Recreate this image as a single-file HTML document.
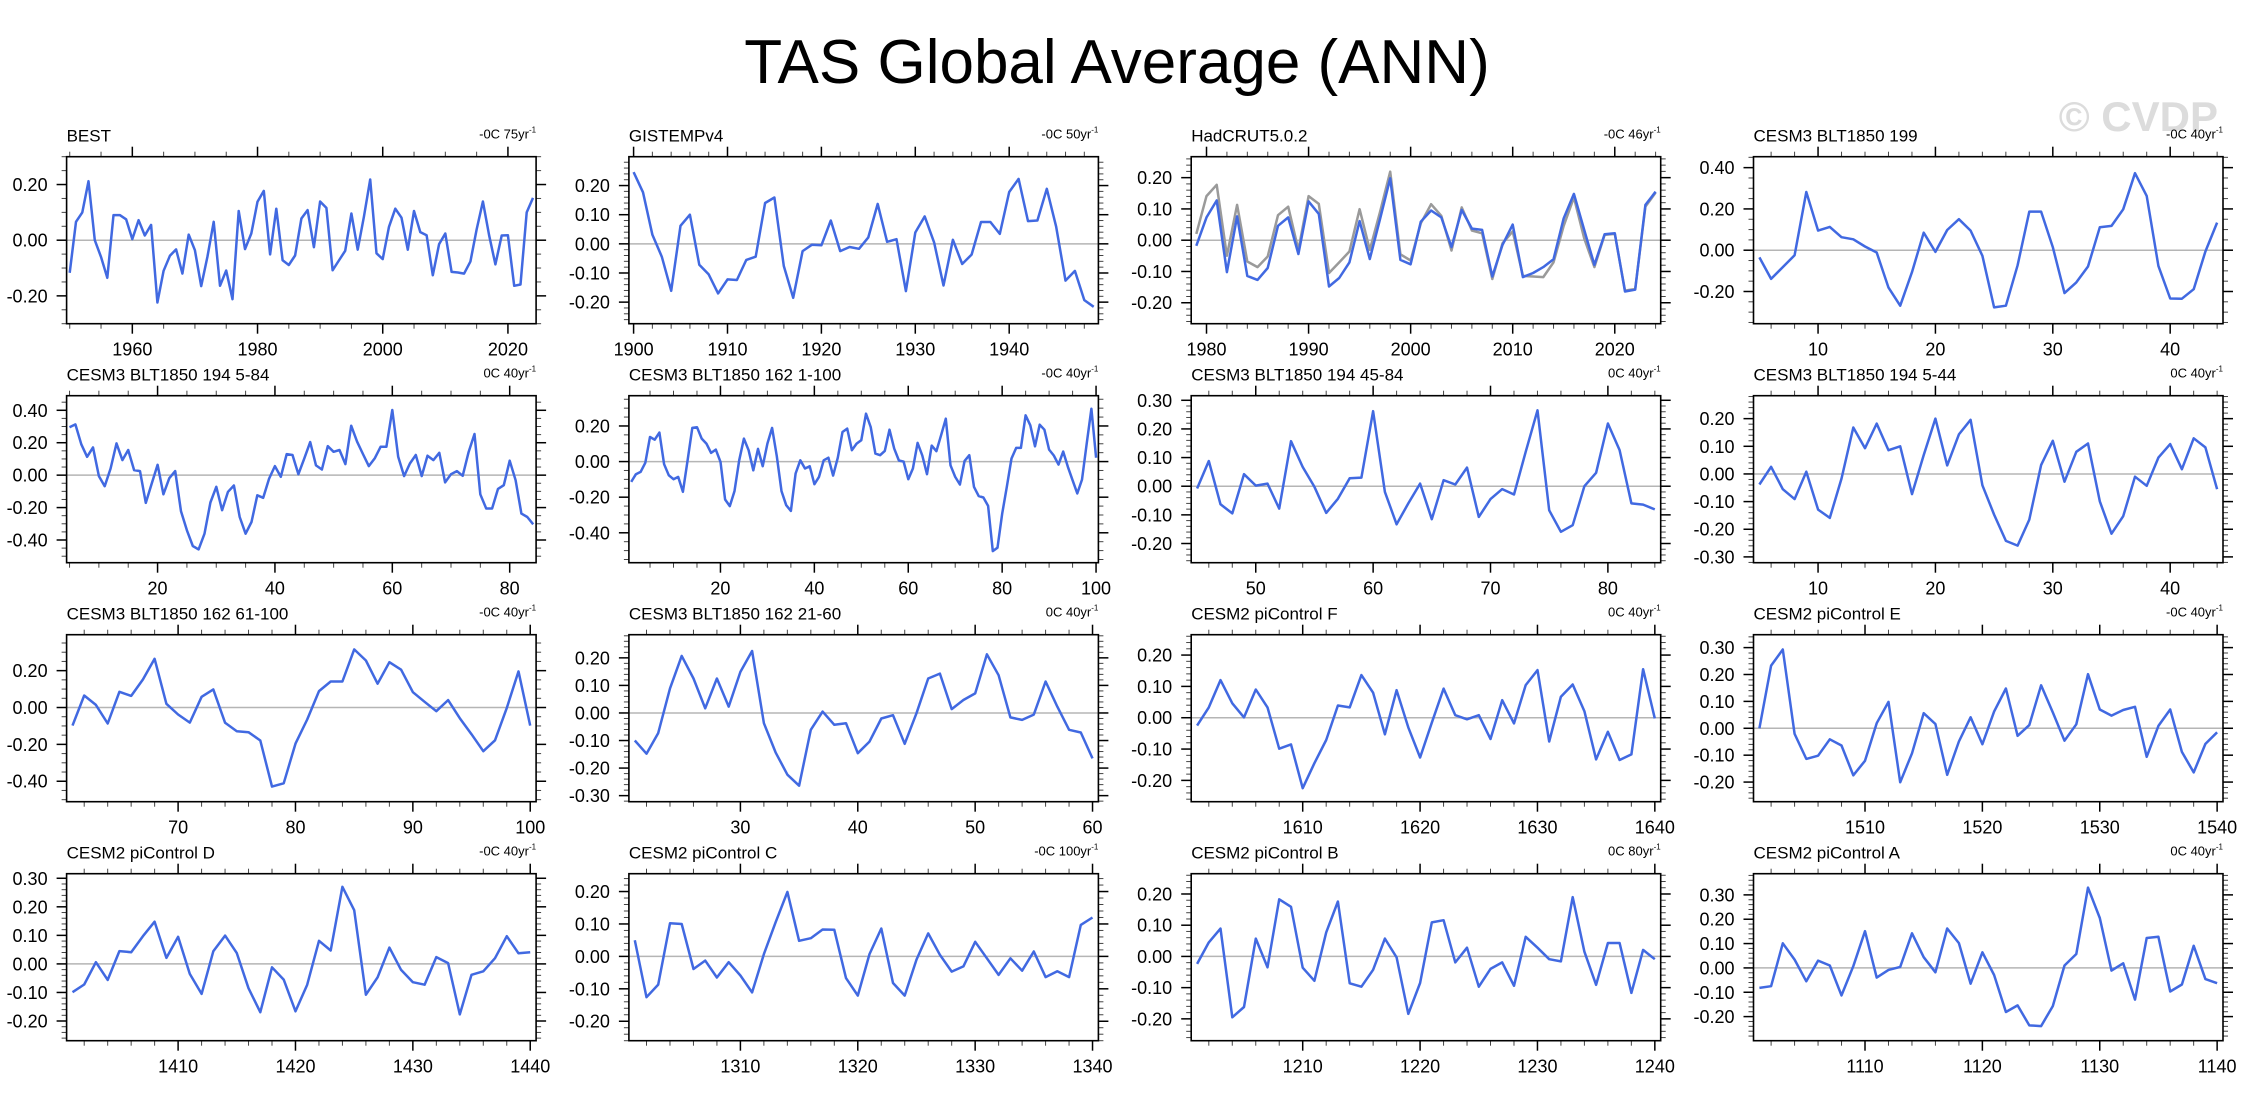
<!DOCTYPE html>
<html><head><meta charset="utf-8"><title>TAS Global Average (ANN)</title>
<style>
html,body{margin:0;padding:0;background:#fff;}
svg{display:block;font-family:"Liberation Sans",sans-serif;}
</style></head>
<body>
<svg id="chart" width="2250" height="1103" viewBox="0 0 2250 1103" xmlns="http://www.w3.org/2000/svg">
<text x="1117" y="83" font-size="62" text-anchor="middle" fill="#000">TAS Global Average (ANN)</text>
<text x="2218" y="131" font-size="42" font-weight="bold" text-anchor="end" fill="#dcdcdc">© CVDP</text>
</svg>
<script>
const titles = ["BEST","GISTEMPv4","HadCRUT5.0.2","CESM3 BLT1850 199",
"CESM3 BLT1850 194 5-84","CESM3 BLT1850 162 1-100","CESM3 BLT1850 194 45-84","CESM3 BLT1850 194 5-44",
"CESM3 BLT1850 162 61-100","CESM3 BLT1850 162 21-60","CESM2 piControl F","CESM2 piControl E",
"CESM2 piControl D","CESM2 piControl C","CESM2 piControl B","CESM2 piControl A"];
const trendValues = ["-0C","-0C","-0C","-0C","0C","-0C","0C","0C","-0C","0C","0C","-0C","-0C","-0C","0C","0C"];
const trendYears = ["75yr","50yr","46yr","40yr","40yr","40yr","40yr","40yr","40yr","40yr","40yr","40yr","40yr","100yr","80yr","40yr"];
const startX = [1950,1900,1979,5,5,1,45,5,61,21,1601,1501,1401,1301,1201,1101];
const yMin = [-0.3,-0.274,-0.267,-0.356,-0.54,-0.568,-0.267,-0.321,-0.511,-0.322,-0.268,-0.273,-0.269,-0.26,-0.27,-0.299];
const yMax = [0.3,0.299,0.267,0.453,0.49,0.37,0.316,0.283,0.395,0.284,0.265,0.348,0.316,0.255,0.265,0.387];
const yLabelStep = [0.2,0.1,0.1,0.2,0.2,0.2,0.1,0.1,0.2,0.1,0.1,0.1,0.1,0.1,0.1,0.1];
const xLabelStep = [20,10,10,10,20,20,10,10,10,10,10,10,10,10,10,10];

const best = [-0.117,0.066,0.10,0.212,0.0,-0.06,-0.135,0.09,0.09,0.075,0.004,0.072,0.017,0.055,-0.224,-0.11,-0.056,-0.033,-0.12,0.02,-0.036,-0.165,-0.06,0.066,-0.164,-0.109,-0.212,0.105,-0.032,0.024,0.138,0.177,-0.051,0.113,-0.072,-0.089,-0.055,0.078,0.108,-0.025,0.139,0.116,-0.108,-0.073,-0.038,0.096,-0.034,0.084,0.218,-0.047,-0.068,0.048,0.113,0.081,-0.034,0.105,0.029,0.018,-0.126,-0.014,0.024,-0.114,-0.116,-0.12,-0.077,0.038,0.139,0.018,-0.087,0.017,0.018,-0.164,-0.159,0.1,0.152];
const gistemp = [0.246,0.177,0.031,-0.044,-0.161,0.062,0.1,-0.072,-0.105,-0.17,-0.122,-0.124,-0.055,-0.044,0.14,0.159,-0.076,-0.185,-0.025,-0.003,-0.005,0.08,-0.025,-0.011,-0.017,0.022,0.137,0.007,0.016,-0.162,0.039,0.094,0.005,-0.143,0.014,-0.069,-0.037,0.075,0.075,0.034,0.178,0.223,0.078,0.08,0.189,0.06,-0.126,-0.093,-0.193,-0.216];
const hadcrut = [-0.018,0.073,0.127,-0.102,0.076,-0.114,-0.127,-0.089,0.046,0.073,-0.044,0.124,0.084,-0.148,-0.121,-0.071,0.061,-0.06,0.067,0.198,-0.063,-0.077,0.059,0.095,0.073,-0.022,0.097,0.037,0.033,-0.116,-0.015,0.05,-0.118,-0.105,-0.086,-0.061,0.07,0.148,0.033,-0.079,0.019,0.022,-0.164,-0.158,0.113,0.155];
const hadcrutGray = [0.02,0.141,0.177,-0.05,0.113,-0.068,-0.086,-0.052,0.08,0.107,-0.031,0.141,0.116,-0.105,-0.071,-0.036,0.099,-0.031,0.09,0.219,-0.045,-0.065,0.054,0.115,0.078,-0.033,0.105,0.031,0.022,-0.124,-0.01,0.028,-0.114,-0.116,-0.118,-0.071,0.046,0.137,0.006,-0.086,0.017,0.02,-0.161,-0.156,0.107,0.152];
const blt199 = [-0.035,-0.139,-0.082,-0.024,0.282,0.095,0.113,0.063,0.053,0.018,-0.011,-0.181,-0.269,-0.106,0.085,-0.008,0.098,0.15,0.095,-0.027,-0.277,-0.269,-0.073,0.187,0.187,0.015,-0.208,-0.156,-0.079,0.111,0.118,0.198,0.373,0.263,-0.076,-0.234,-0.235,-0.189,-0.006,0.134];
const blt194a = [0.295,0.313,0.19,0.113,0.171,-0.006,-0.068,0.041,0.196,0.093,0.155,0.031,0.025,-0.171,-0.052,0.064,-0.118,-0.019,0.025,-0.223,-0.34,-0.437,-0.458,-0.361,-0.169,-0.072,-0.216,-0.103,-0.064,-0.258,-0.361,-0.289,-0.124,-0.14,-0.021,0.056,-0.01,0.13,0.124,0.006,0.103,0.204,0.06,0.035,0.179,0.144,0.155,0.068,0.305,0.206,0.13,0.056,0.103,0.175,0.175,0.402,0.113,-0.006,0.072,0.124,-0.006,0.12,0.093,0.138,-0.045,0.006,0.025,-0.004,0.142,0.254,-0.118,-0.206,-0.206,-0.085,-0.062,0.089,-0.031,-0.237,-0.258,-0.303];
const blt162a = [-0.114,-0.071,-0.058,-0.007,0.138,0.123,0.163,-0.015,-0.077,-0.099,-0.086,-0.17,0.007,0.189,0.193,0.129,0.101,0.049,0.067,-0.002,-0.213,-0.25,-0.166,0.007,0.129,0.064,-0.049,0.071,-0.026,0.101,0.189,0.03,-0.166,-0.245,-0.277,-0.067,0.007,-0.039,-0.026,-0.127,-0.086,0.007,0.022,-0.079,0.022,0.166,0.185,0.064,0.101,0.12,0.269,0.194,0.045,0.036,0.06,0.179,0.073,0.006,0,-0.099,-0.039,0.105,0.034,-0.071,0.09,0.058,0.148,0.241,-0.021,-0.086,-0.129,0.004,0.036,-0.142,-0.194,-0.202,-0.249,-0.503,-0.484,-0.292,-0.142,0.017,0.077,0.077,0.26,0.204,0.086,0.207,0.179,0.067,0.034,-0.017,0.056,-0.03,-0.105,-0.179,-0.101,0.101,0.297,0.022];
const blt194b = [-0.008,0.088,-0.063,-0.095,0.042,0.002,0.009,-0.078,0.157,0.067,-0.002,-0.093,-0.044,0.028,0.03,0.262,-0.02,-0.133,-0.06,0.009,-0.115,0.021,0.006,0.065,-0.107,-0.045,-0.01,-0.029,0.12,0.265,-0.084,-0.159,-0.136,0,0.047,0.219,0.126,-0.06,-0.064,-0.081];
const blt194c = [-0.038,0.026,-0.055,-0.091,0.008,-0.129,-0.159,-0.017,0.168,0.093,0.182,0.086,0.1,-0.073,0.068,0.2,0.031,0.143,0.196,-0.041,-0.147,-0.242,-0.259,-0.165,0.032,0.12,-0.028,0.08,0.11,-0.099,-0.216,-0.153,-0.01,-0.043,0.059,0.108,0.017,0.129,0.096,-0.055];
const blt162b = [-0.098,0.065,0.014,-0.087,0.085,0.063,0.152,0.264,0.02,-0.038,-0.082,0.058,0.098,-0.083,-0.129,-0.134,-0.179,-0.429,-0.411,-0.196,-0.065,0.089,0.141,0.141,0.315,0.255,0.129,0.246,0.205,0.083,0.031,-0.02,0.04,-0.058,-0.145,-0.237,-0.178,-0.002,0.196,-0.098];
const blt162c = [-0.1,-0.148,-0.073,0.089,0.207,0.125,0.017,0.125,0.023,0.149,0.225,-0.037,-0.143,-0.224,-0.264,-0.061,0.005,-0.043,-0.037,-0.146,-0.104,-0.02,-0.008,-0.112,-0.001,0.125,0.143,0.014,0.047,0.071,0.213,0.137,-0.016,-0.025,-0.006,0.114,0.023,-0.061,-0.071,-0.165];
const piF = [-0.025,0.033,0.12,0.046,0.001,0.09,0.033,-0.099,-0.085,-0.225,-0.145,-0.071,0.039,0.033,0.136,0.08,-0.053,0.088,-0.031,-0.127,-0.016,0.093,0.008,-0.005,0.008,-0.068,0.056,-0.018,0.104,0.152,-0.076,0.067,0.106,0.021,-0.133,-0.045,-0.135,-0.117,0.155,-0.002];
const piE = [0,0.233,0.293,-0.021,-0.114,-0.102,-0.041,-0.064,-0.175,-0.121,0.019,0.098,-0.201,-0.093,0.056,0.016,-0.173,-0.049,0.041,-0.059,0.062,0.148,-0.028,0.012,0.16,0.059,-0.046,0.015,0.201,0.07,0.047,0.068,0.08,-0.106,0.009,0.07,-0.088,-0.164,-0.058,-0.015];
const piD = [-0.099,-0.072,0.006,-0.056,0.045,0.041,0.097,0.148,0.021,0.095,-0.035,-0.105,0.044,0.099,0.038,-0.085,-0.169,-0.012,-0.055,-0.166,-0.073,0.081,0.047,0.27,0.188,-0.108,-0.047,0.057,-0.021,-0.064,-0.073,0.024,0.003,-0.177,-0.038,-0.026,0.02,0.097,0.037,0.041];
const piC = [0.05,-0.126,-0.087,0.102,0.1,-0.039,-0.013,-0.065,-0.018,-0.059,-0.111,0.007,0.105,0.199,0.048,0.056,0.083,0.082,-0.067,-0.121,0.007,0.086,-0.082,-0.121,-0.01,0.071,0.005,-0.047,-0.031,0.045,-0.006,-0.057,-0.006,-0.044,0.015,-0.064,-0.046,-0.064,0.097,0.12];
const piB = [-0.024,0.045,0.089,-0.195,-0.162,0.057,-0.035,0.183,0.159,-0.036,-0.078,0.077,0.176,-0.086,-0.097,-0.043,0.057,-0.003,-0.184,-0.085,0.109,0.116,-0.019,0.028,-0.097,-0.04,-0.019,-0.094,0.063,0.028,-0.009,-0.016,0.19,0.015,-0.091,0.043,0.043,-0.117,0.021,-0.009];
const piA = [-0.082,-0.075,0.101,0.034,-0.055,0.03,0.01,-0.113,0.007,0.151,-0.04,-0.008,0.004,0.142,0.044,-0.018,0.162,0.102,-0.065,0.064,-0.029,-0.181,-0.154,-0.236,-0.239,-0.157,0.01,0.057,0.33,0.205,-0.011,0.019,-0.13,0.123,0.128,-0.097,-0.068,0.091,-0.046,-0.063];

const seriesList = [best,gistemp,hadcrut,blt199,blt194a,blt162a,blt194b,blt194c,blt162b,blt162c,piF,piE,piD,piC,piB,piA];

const NS = "http://www.w3.org/2000/svg";
const svg = document.getElementById("chart");
const PW = 469.5, PH = 167;
function mk(tag, attrs, parent) {
  const e = document.createElementNS(NS, tag);
  for (const k in attrs) e.setAttribute(k, attrs[k]);
  (parent || svg).appendChild(e);
  return e;
}
function slug(s){return s.toLowerCase().replace(/[^a-z0-9]+/g,'-').replace(/^-|-$/g,'');}

for (let p = 0; p < 16; p++) {
  const col = p % 4, row = Math.floor(p / 4);
  const L = 66.6 + 562.3 * col, T = 156.7 + 239 * row;
  const R = L + PW, B = T + PH;
  const data = seriesList[p];
  const x0 = startX[p] - 0.5, x1 = startX[p] + data.length - 1 + 0.5;
  const sx = v => L + (v - x0) / (x1 - x0) * PW;
  const sy = v => B - (v - yMin[p]) / (yMax[p] - yMin[p]) * PH;

  const g = mk("g", {});
  
  

  const title = mk("text", {x: L, y: T - 15, "font-size": 17, fill: "#000"}, g);
  title.textContent = titles[p];
  
  

  const tr = mk("text", {x: R, y: T - 18, "font-size": 13, "text-anchor": "end", fill: "#000"}, g);
  
  
  const t1 = mk("tspan", {}, tr); t1.textContent = trendValues[p] + " " + trendYears[p];
  const t2 = mk("tspan", {dy: -6, "font-size": 8}, tr); t2.textContent = "-1";

  const zl = mk("line", {x1: L, x2: R, y1: sy(0), y2: sy(0), stroke: "#b5b5b5", "stroke-width": 1.5}, g);
  
  

  const ys = yLabelStep[p], ymn = ys === 0.2 ? 0.05 : 0.02;
  for (let k = Math.ceil(yMin[p] / ymn - 1e-6); k * ymn <= yMax[p] + 1e-9; k++) {
    const v = k * ymn, yy = sy(v);
    const isMaj = Math.abs(v / ys - Math.round(v / ys)) < 1e-6;
    const len = isMaj ? 10 : 5;
    mk("line", {x1: L - len, x2: L, y1: yy, y2: yy, stroke: isMaj ? "#000" : "#444", "stroke-width": isMaj ? 1.5 : 1}, g);
    mk("line", {x1: R, x2: R + len, y1: yy, y2: yy, stroke: isMaj ? "#000" : "#444", "stroke-width": isMaj ? 1.5 : 1}, g);
    if (isMaj) {
      const lab = mk("text", {x: L - 19, y: yy + 6.5, "font-size": 18, "text-anchor": "end", fill: "#000"}, g);
      lab.textContent = v.toFixed(2).replace("-0.00", "0.00");
      
      
    }
  }
  const xs = xLabelStep[p], xmn = xs === 20 ? 5 : 2;
  for (let v = Math.ceil(x0 / xmn) * xmn; v <= x1; v += xmn) {
    const xx = sx(v), isMaj = v % xs === 0;
    const len = isMaj ? 10 : 5;
    mk("line", {x1: xx, x2: xx, y1: B, y2: B + len, stroke: isMaj ? "#000" : "#444", "stroke-width": isMaj ? 1.5 : 1}, g);
    mk("line", {x1: xx, x2: xx, y1: T - len, y2: T, stroke: isMaj ? "#000" : "#444", "stroke-width": isMaj ? 1.5 : 1}, g);
    if (isMaj) {
      const lab = mk("text", {x: xx, y: B + 32, "font-size": 18, "text-anchor": "middle", fill: "#000"}, g);
      lab.textContent = String(v);
      
      
    }
  }

  if (p === 2) {
    const gp = hadcrutGray.map((v, i) => sx(startX[p] + i).toFixed(1) + "," + sy(v).toFixed(1)).join(" ");
    const gl = mk("polyline", {points: gp, fill: "none", stroke: "#9a9a9a", "stroke-width": 2.5, "stroke-linejoin": "round"}, g);
    
    
  }
  const pts = data.map((v, i) => sx(startX[p] + i).toFixed(1) + "," + sy(v).toFixed(1)).join(" ");
  const pl = mk("polyline", {points: pts, fill: "none", stroke: "#4169e1", "stroke-width": 2.5, "stroke-linejoin": "round"}, g);
  
  

  const fr = mk("rect", {x: L, y: T, width: PW, height: PH, fill: "none", stroke: "#000", "stroke-width": 1.6}, g);
  
  
}
</script>
</body></html>
